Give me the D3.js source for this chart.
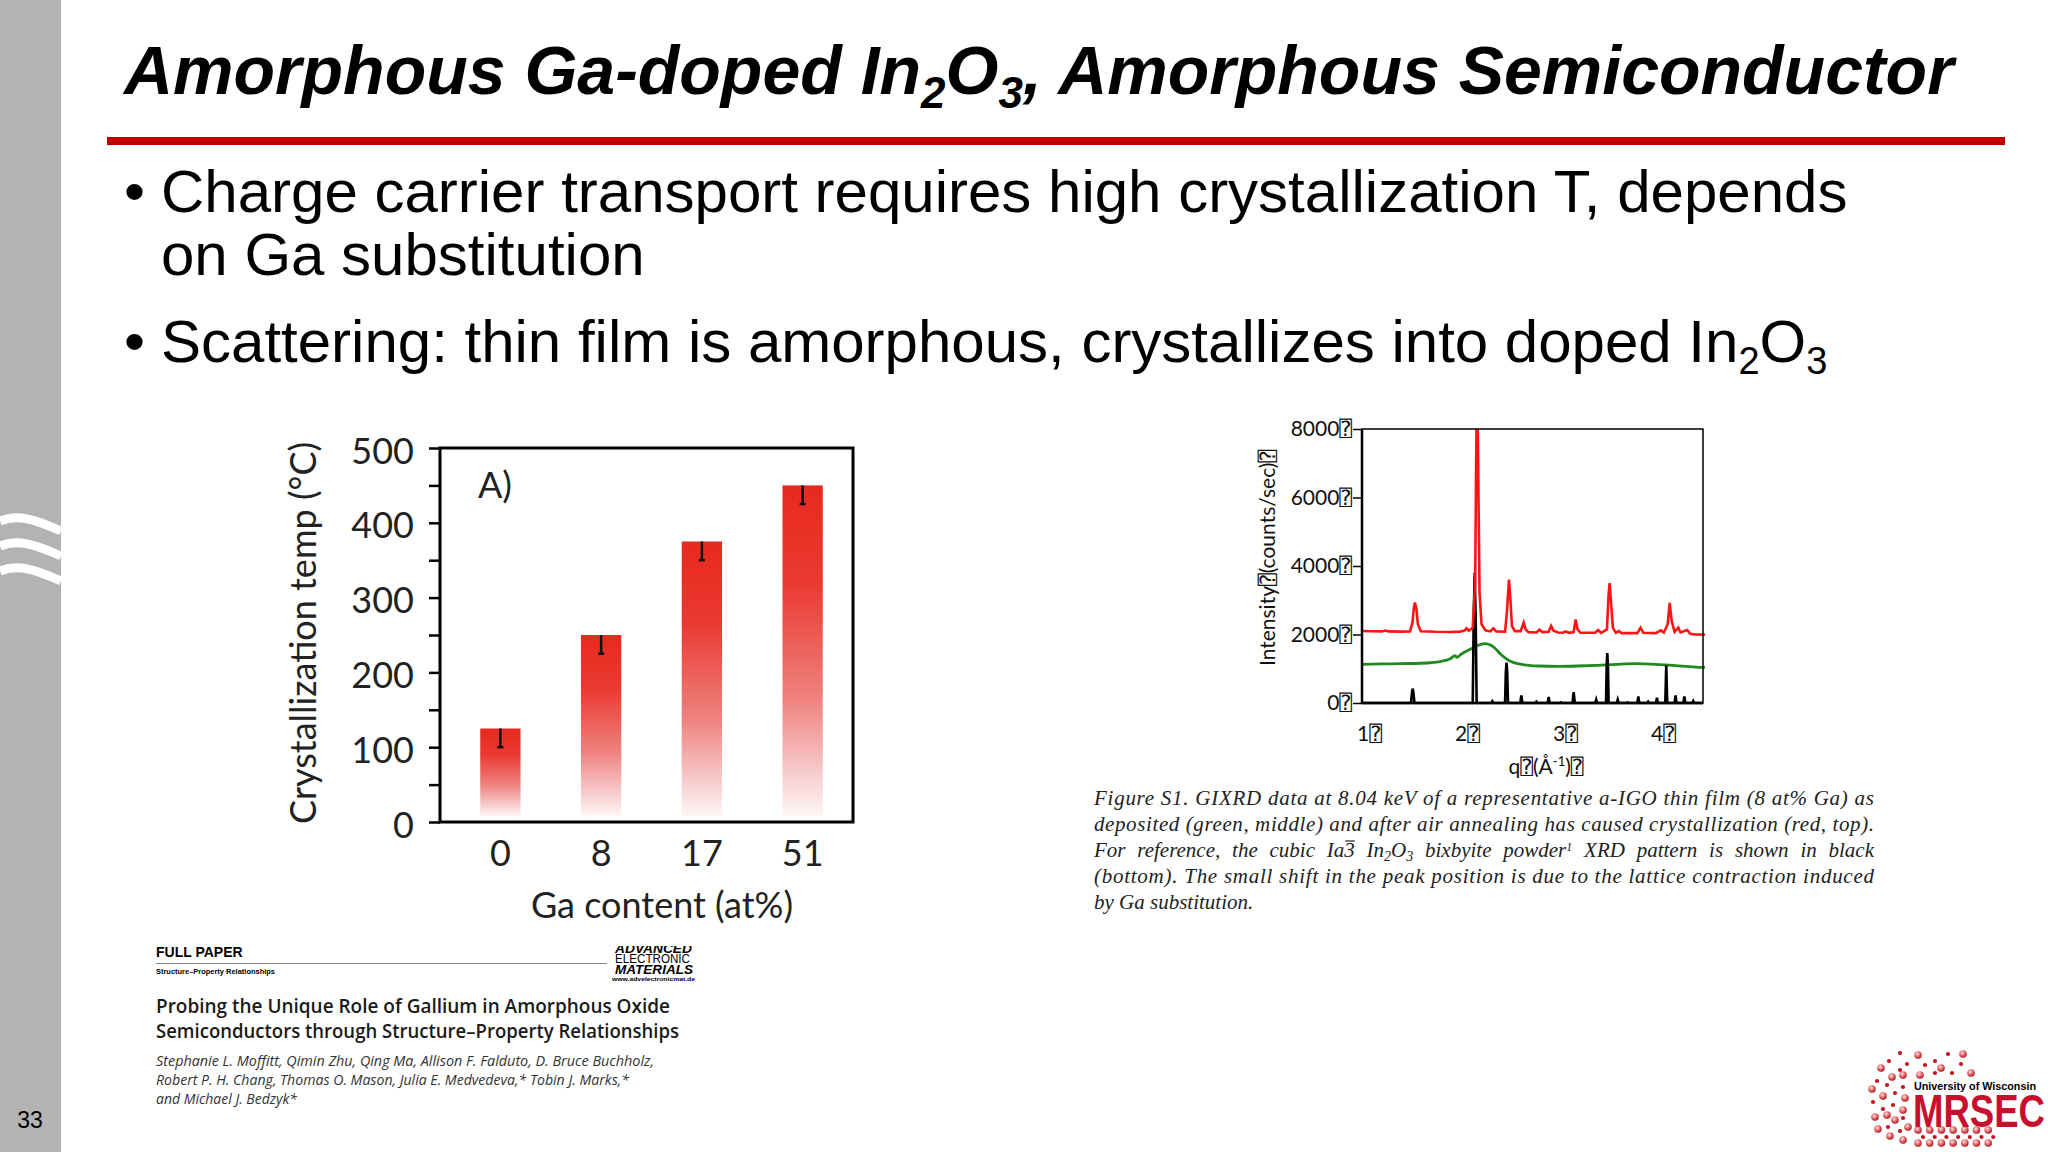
<!DOCTYPE html>
<html>
<head>
<meta charset="utf-8">
<script src="https://cdn.jsdelivr.net/npm/d3@7"></script>
<style>
  body { margin: 0; background: #fff; }
  svg { display: block; }
</style>
</head>
<body>
<script>
const width = 2048,
  height = 1152;

// Panel A: crystallization temperature vs Ga content
const gaContent = ["0", "8", "17", "51"];
const crystTemp = [125, 250, 375, 450];
const tempErr = [25, 25, 25, 25];
const tempTicks = [0, 100, 200, 300, 400, 500];
const tempMinorTicks = [50, 150, 250, 350, 450];

// GIXRD patterns: [q (1/Å), intensity (counts/sec)]
const qTicks = [1, 2, 3, 4];
const intensityTicks = [0, 2000, 4000, 6000, 8000];
const redAnnealed = [
  [1.0, 2100], [1.1, 2095], [1.2, 2090], [1.24, 2115], [1.27, 2090], [1.4, 2085],
  [1.49, 2090], [1.515, 2350], [1.53, 2800], [1.54, 2930], [1.555, 2750], [1.57, 2300],
  [1.6, 2095], [1.75, 2080], [1.9, 2075], [2.0, 2085], [2.05, 2120], [2.065, 2180],
  [2.09, 2110], [2.13, 2200], [2.155, 3500], [2.165, 7000], [2.175, 9800], [2.185, 7000],
  [2.2, 3200], [2.22, 2300], [2.26, 2120], [2.31, 2090], [2.34, 2180], [2.37, 2090],
  [2.46, 2080], [2.48, 2700], [2.5, 3600], [2.515, 3000], [2.53, 2250], [2.56, 2100],
  [2.62, 2100], [2.65, 2350], [2.67, 2150], [2.7, 2070], [2.78, 2060], [2.81, 2140],
  [2.84, 2070], [2.905, 2080], [2.93, 2250], [2.955, 2110], [3.0, 2060], [3.05, 2050],
  [3.08, 2090], [3.11, 2050], [3.16, 2070], [3.18, 2440], [3.2, 2150], [3.23, 2050],
  [3.38, 2050], [3.41, 2130], [3.44, 2050], [3.5, 2150], [3.515, 3100], [3.527, 3500],
  [3.54, 3000], [3.56, 2200], [3.59, 2050], [3.62, 2100], [3.65, 2040], [3.81, 2040],
  [3.843, 2200], [3.87, 2050], [4.0, 2040], [4.05, 2120], [4.08, 2060], [4.12, 2300],
  [4.14, 2920], [4.16, 2400], [4.19, 2080], [4.228, 2200], [4.25, 2060], [4.32, 2130],
  [4.35, 2020], [4.4, 2000], [4.5, 1995]
];
const greenDeposited = [
  [1.0, 1130], [1.2, 1140], [1.4, 1150], [1.6, 1160], [1.7, 1175], [1.8, 1210],
  [1.9, 1290], [1.95, 1380], [1.97, 1330], [2.0, 1400], [2.1, 1560], [2.2, 1700],
  [2.26, 1735], [2.31, 1690], [2.36, 1590], [2.41, 1440], [2.46, 1320], [2.52, 1210],
  [2.6, 1140], [2.7, 1100], [2.8, 1080], [3.0, 1070], [3.2, 1080], [3.4, 1100],
  [3.6, 1130], [3.8, 1150], [4.0, 1130], [4.2, 1090], [4.4, 1050], [4.5, 1040]
];
const blackPowder = [
  [1.0, 0], [1.5, 0], [1.51, 300], [1.517, 420], [1.525, 300], [1.535, 0],
  [2.13, 0], [2.14, 2500], [2.15, 3800], [2.16, 2500], [2.17, 0], [2.32, 0],
  [2.33, 50], [2.34, 0], [2.46, 0], [2.468, 900], [2.475, 1180], [2.482, 900],
  [2.49, 0], [2.615, 0], [2.626, 224], [2.637, 0], [2.77, 0], [2.78, 40],
  [2.79, 0], [2.895, 0], [2.905, 175], [2.915, 0], [3.02, 0], [3.03, 20],
  [3.04, 0], [3.148, 0], [3.16, 320], [3.172, 0], [3.38, 0], [3.39, 100],
  [3.4, 0], [3.49, 0], [3.497, 1100], [3.503, 1460], [3.51, 1100], [3.517, 0],
  [3.6, 0], [3.61, 100], [3.62, 0], [3.7, 0], [3.71, 20], [3.72, 0],
  [3.81, 0], [3.82, 195], [3.83, 0], [3.91, 0], [3.92, 40], [3.93, 0],
  [4.0, 0], [4.01, 155], [4.02, 0], [4.095, 0], [4.105, 1100], [4.115, 0],
  [4.19, 0], [4.2, 224], [4.21, 0], [4.28, 0], [4.29, 195], [4.3, 0],
  [4.37, 0], [4.38, 60], [4.39, 0], [4.48, 0]
];

const captionLines = [
  "Figure S1. GIXRD data at 8.04 keV of a representative a-IGO thin film (8 at% Ga) as",
  "deposited (green, middle) and after air annealing has caused crystallization (red, top).",
  null, // pieces below (sub/superscripts)
  "(bottom). The small shift in the peak position is due to the lattice contraction induced",
  "by Ga substitution."
];
// [text, kind, space before]: n = normal, o = overlined, b = subscript, p = superscript
const captionLine3 = [
  ["For reference, the cubic Ia", "n", 0], ["3", "o", 0], ["In", "n", 1], ["2", "b", 0],
  ["O", "n", 0], ["3", "b", 0], ["bixbyite powder", "n", 1], ["1", "p", 0],
  ["XRD pattern is shown in black", "n", 1]
];
const authorLines = [
  "Stephanie L. Moffitt, Qimin Zhu, Qing Ma, Allison F. Falduto, D. Bruce Buchholz,",
  "Robert P. H. Chang, Thomas O. Mason, Julia E. Medvedeva,* Tobin J. Marks,*",
  "and Michael J. Bedzyk*"
];

const sans = "'Liberation Sans', Arial, sans-serif";
const calib = "Lato, 'Open Sans', sans-serif";
const tofu = "\u2370";

const svg = d3
  .select("body")
  .append("svg")
  .attr("width", width)
  .attr("height", height);

const defs = svg.append("defs");

// ---------- slide frame ----------
svg.append("rect").attr("width", width).attr("height", height).attr("fill", "#fff");
svg.append("rect").attr("x", 0).attr("y", 0).attr("width", 61).attr("height", height).attr("fill", "#b3b3b3");
[521, 546, 571].forEach(y => {
  svg.append("path")
    .attr("d", `M0,${y} C18,${y - 7} 34,${y - 2} 61,${y + 10}`)
    .attr("fill", "none")
    .attr("stroke", "#fff")
    .attr("stroke-width", 9);
});
svg.append("text")
  .attr("x", 30).attr("y", 1128)
  .attr("text-anchor", "middle")
  .attr("font-family", sans).attr("font-size", 23)
  .text("33");

// title
const title = svg.append("text")
  .attr("x", 124).attr("y", 94)
  .attr("font-family", sans).attr("font-size", 68)
  .attr("font-weight", "bold").attr("font-style", "italic");
title.append("tspan").text("Amorphous Ga-doped In");
title.append("tspan").attr("font-size", 44).attr("dy", 14).text("2");
title.append("tspan").attr("dy", -14).text("O");
title.append("tspan").attr("font-size", 44).attr("dy", 14).text("3");
title.append("tspan").attr("dy", -14).text(", Amorphous Semiconductor");

svg.append("rect").attr("x", 107).attr("y", 137).attr("width", 1898).attr("height", 8).attr("fill", "#c00000");

// bullets
const bullets = svg.append("g").attr("font-family", sans).attr("font-size", 60).attr("fill", "#000");
[212, 362].forEach(y => bullets.append("text").attr("x", 124).attr("y", y).text("\u2022"));
bullets.append("text").attr("x", 161).attr("y", 212).text("Charge carrier transport requires high crystallization T, depends");
bullets.append("text").attr("x", 161).attr("y", 275).text("on Ga substitution");
const b3 = bullets.append("text").attr("x", 161).attr("y", 362);
b3.append("tspan").text("Scattering: thin film is amorphous, crystallizes into doped In");
b3.append("tspan").attr("font-size", 38).attr("dy", 12).text("2");
b3.append("tspan").attr("dy", -12).text("O");
b3.append("tspan").attr("font-size", 38).attr("dy", 12).text("3");

// ---------- Panel A: bar chart ----------
const bx0 = 440, bx1 = 853, by0 = 822, by1 = 448;
const yScale = d3.scaleLinear().domain([0, 500]).range([by0, by1]);
const xScale = d3.scaleBand().domain(gaContent).range([450, 853]).paddingInner(0.6).paddingOuter(0.3);

const grad = defs.append("linearGradient").attr("id", "barGrad")
  .attr("x1", 0).attr("y1", 0).attr("x2", 0).attr("y2", 1);
[[0, "#e8291f"], [0.3, "#ea3a31"], [0.65, "#ef8380"], [0.88, "#f7cfcf"], [1, "#fff6f6"]]
  .forEach(([o, c]) => grad.append("stop").attr("offset", o).attr("stop-color", c));

const barG = svg.append("g");
barG.selectAll("rect.bar")
  .data(gaContent)
  .enter()
  .append("rect")
  .attr("class", "bar")
  .attr("x", d => xScale(d))
  .attr("width", xScale.bandwidth())
  .attr("y", (d, i) => yScale(crystTemp[i]))
  .attr("height", (d, i) => yScale(0) - yScale(crystTemp[i]) - 6)
  .attr("fill", "url(#barGrad)");

// error bars (lower half shown)
const errG = barG.selectAll("g.err")
  .data(gaContent)
  .enter()
  .append("g")
  .attr("class", "err")
  .attr("stroke", "#111")
  .attr("stroke-width", 2.5);
errG.append("line")
  .attr("x1", d => xScale(d) + xScale.bandwidth() / 2)
  .attr("x2", d => xScale(d) + xScale.bandwidth() / 2)
  .attr("y1", (d, i) => yScale(crystTemp[i]))
  .attr("y2", (d, i) => yScale(crystTemp[i] - tempErr[i]));
errG.append("line")
  .attr("x1", d => xScale(d) + xScale.bandwidth() / 2 - 3)
  .attr("x2", d => xScale(d) + xScale.bandwidth() / 2 + 3)
  .attr("y1", (d, i) => yScale(crystTemp[i] - tempErr[i]))
  .attr("y2", (d, i) => yScale(crystTemp[i] - tempErr[i]));

// frame
barG.append("rect")
  .attr("x", bx0).attr("y", by1)
  .attr("width", bx1 - bx0).attr("height", by0 - by1)
  .attr("fill", "none").attr("stroke", "#000").attr("stroke-width", 3);

const yAxis = d3.axisLeft(yScale).tickValues(tempTicks).tickSize(11).tickPadding(15);
const yAxisG = barG.append("g").attr("transform", `translate(${bx0},0)`).call(yAxis);
const yMinorG = barG.append("g").attr("transform", `translate(${bx0},0)`)
  .call(d3.axisLeft(yScale).tickValues(tempMinorTicks).tickSize(11).tickFormat(""));
[yAxisG, yMinorG].forEach(g => {
  g.select(".domain").remove();
  g.selectAll("line").attr("stroke", "#000").attr("stroke-width", 2.5);
});
yAxisG.selectAll("text").attr("font-family", calib).attr("font-size", 36).attr("fill", "#222").attr("dy", "0.42em");

const xAxis = d3.axisBottom(xScale).tickSize(0).tickPadding(18);
const xAxisG = barG.append("g").attr("transform", `translate(0,${by0})`).call(xAxis);
xAxisG.select(".domain").remove();
xAxisG.selectAll("text").attr("font-family", calib).attr("font-size", 36).attr("fill", "#222");

barG.append("text")
  .attr("x", 478).attr("y", 498)
  .attr("font-family", calib).attr("font-size", 36).attr("fill", "#222")
  .text("A)");
barG.append("text")
  .attr("x", 662).attr("y", 918)
  .attr("text-anchor", "middle")
  .attr("font-family", calib).attr("font-size", 36).attr("fill", "#222")
  .text("Ga content (at%)");
barG.append("text")
  .attr("transform", "translate(316,633) rotate(-90)")
  .attr("text-anchor", "middle")
  .attr("font-family", calib).attr("font-size", 36).attr("fill", "#222")
  .text("Crystallization temp (\u00b0C)");

// ---------- GIXRD plot ----------
const px0 = 1362, px1 = 1703, py0 = 703, py1 = 429;
const qScale = d3.scaleLinear().domain([1, 4.48]).range([px0, px1]);
const iScale = d3.scaleLinear().domain([0, 8000]).range([py0, py1]);
const xrdFont = "Lato, 'DejaVu Sans Mono', 'DejaVu Sans', sans-serif";

defs.append("clipPath").attr("id", "xrdClip")
  .append("rect").attr("x", px0 - 2).attr("y", py1).attr("width", px1 - px0 + 6).attr("height", py0 - py1 + 3);

const xrd = svg.append("g");
const line = d3.line().x(d => qScale(d[0])).y(d => iScale(d[1]));
const plotG = xrd.append("g").attr("clip-path", "url(#xrdClip)");
plotG.append("path").datum(greenDeposited)
  .attr("d", line.curve(d3.curveMonotoneX))
  .attr("fill", "none").attr("stroke", "#1f8a1f").attr("stroke-width", 2.8);
line.curve(d3.curveLinear);
plotG.append("path").datum(blackPowder)
  .attr("d", line)
  .attr("fill", "none").attr("stroke", "#000").attr("stroke-width", 2.6);
plotG.append("path").datum(redAnnealed)
  .attr("d", line)
  .attr("fill", "none").attr("stroke", "#ff1414").attr("stroke-width", 2.6);

xrd.append("rect")
  .attr("x", px0).attr("y", py1)
  .attr("width", px1 - px0).attr("height", py0 - py1)
  .attr("fill", "none").attr("stroke", "#000").attr("stroke-width", 1.5);
xrd.append("line")
  .attr("x1", px0).attr("x2", px1).attr("y1", py0).attr("y2", py0)
  .attr("stroke", "#000").attr("stroke-width", 2.5);
xrd.append("line")
  .attr("x1", px0).attr("x2", px0).attr("y1", py0).attr("y2", py1)
  .attr("stroke", "#000").attr("stroke-width", 2.5);

const iAxisG = xrd.append("g").attr("transform", `translate(${px0},0)`)
  .call(d3.axisLeft(iScale).tickValues(intensityTicks).tickSize(9).tickPadding(1).tickFormat(d => d + tofu));
iAxisG.select(".domain").remove();
iAxisG.selectAll("line").attr("stroke", "#000").attr("stroke-width", 1.5);
iAxisG.selectAll("text").attr("font-family", xrdFont).attr("font-size", 21).attr("fill", "#111");

const qAxisG = xrd.append("g").attr("transform", `translate(0,${py0})`)
  .call(d3.axisBottom(qScale).tickValues(qTicks).tickSize(0).tickPadding(23).tickFormat(d => d + tofu));
qAxisG.select(".domain").remove();
qAxisG.selectAll("text").attr("font-family", xrdFont).attr("font-size", 21).attr("fill", "#111").attr("dx", 7);

xrd.append("text")
  .attr("transform", "translate(1275,558) rotate(-90)")
  .attr("text-anchor", "middle")
  .attr("font-family", xrdFont).attr("font-size", 21).attr("fill", "#111")
  .text("Intensity" + tofu + "(counts/sec)" + tofu);
const qt = xrd.append("text")
  .attr("x", 1546).attr("y", 774)
  .attr("text-anchor", "middle")
  .attr("font-family", xrdFont).attr("font-size", 21).attr("fill", "#111");
qt.append("tspan").text("q" + tofu + "(\u00c5");
qt.append("tspan").attr("font-size", 13).attr("dy", -8).text("-1");
qt.append("tspan").attr("dy", 8).text(")" + tofu);

// caption
const serif = "'Liberation Serif', 'Times New Roman', serif";
const capW = 780, capX = 1094;
const cap = svg.append("g")
  .attr("font-family", serif).attr("font-size", 21)
  .attr("font-style", "italic").attr("fill", "#222");
const capY = [805, 831, 857, 883, 909];
captionLines.forEach((t, i) => {
  if (t === null) return;
  const tx = cap.append("text").attr("x", capX).attr("y", capY[i]).text(t);
  if (i < 4) tx.attr("textLength", capW).attr("lengthAdjust", "spacing");
});

// line 3: separate pieces, justified by widening the word gaps
const probe = cap.append("text").text("a a");
const probe2 = cap.append("text").text("aa");
const spaceW = probe.node().getComputedTextLength() - probe2.node().getComputedTextLength();
probe.remove();
probe2.remove();
const pieces = captionLine3.map(([t, kind, lead]) => {
  const el = cap.append("text").attr("y", capY[2]).text(t);
  if (kind === "b") el.attr("font-size", 14).attr("y", capY[2] + 4);
  if (kind === "p") el.attr("font-size", 12).attr("y", capY[2] - 6);
  return { el, kind, lead, w: el.node().getComputedTextLength(), inner: (t.match(/ /g) || []).length };
});
const natural = d3.sum(pieces, p => p.w + p.lead * spaceW);
const nGaps = d3.sum(pieces, p => p.inner + p.lead);
const ws = Math.max(0, (capW - natural) / nGaps);
let cx = capX;
pieces.forEach(p => {
  cx += p.lead * (spaceW + ws);
  p.el.attr("x", cx).attr("word-spacing", ws);
  if (p.kind === "o") {
    cap.append("line")
      .attr("x1", cx + 1).attr("x2", cx + p.w)
      .attr("y1", capY[2] - 16).attr("y2", capY[2] - 16)
      .attr("stroke", "#222").attr("stroke-width", 1.2);
  }
  cx += p.w + p.inner * ws;
});

// ---------- paper header snippet ----------
const paper = svg.append("g");
paper.append("text").attr("x", 156).attr("y", 957)
  .attr("font-family", sans).attr("font-size", 14).attr("font-weight", "bold")
  .text("FULL PAPER");
paper.append("line").attr("x1", 156).attr("x2", 607).attr("y1", 963.5).attr("y2", 963.5)
  .attr("stroke", "#888").attr("stroke-width", 1);
paper.append("text").attr("x", 156).attr("y", 974)
  .attr("font-family", sans).attr("font-size", 8).attr("font-weight", "bold")
  .attr("textLength", 119).attr("lengthAdjust", "spacingAndGlyphs")
  .text("Structure\u2013Property Relationships");

defs.append("clipPath").attr("id", "advClip")
  .append("rect").attr("x", 600).attr("y", 946).attr("width", 110).attr("height", 20);
paper.append("text").attr("x", 615).attr("y", 953).attr("clip-path", "url(#advClip)")
  .attr("font-family", sans).attr("font-size", 12).attr("font-weight", "bold").attr("font-style", "italic")
  .attr("textLength", 77).attr("lengthAdjust", "spacingAndGlyphs")
  .text("ADVANCED");
paper.append("text").attr("x", 615).attr("y", 963)
  .attr("font-family", sans).attr("font-size", 12)
  .attr("textLength", 75).attr("lengthAdjust", "spacingAndGlyphs")
  .text("ELECTRONIC");
paper.append("text").attr("x", 615).attr("y", 974)
  .attr("font-family", sans).attr("font-size", 12.5).attr("font-weight", "bold").attr("font-style", "italic")
  .attr("textLength", 78).attr("lengthAdjust", "spacingAndGlyphs")
  .text("MATERIALS");
paper.append("text").attr("x", 612).attr("y", 981)
  .attr("font-family", sans).attr("font-size", 6).attr("font-weight", "bold")
  .attr("textLength", 83).attr("lengthAdjust", "spacingAndGlyphs")
  .text("www.advelectronicmat.de");

const ptitle = paper.append("g")
  .attr("font-family", "'Open Sans', sans-serif").attr("font-weight", 600)
  .attr("font-size", 19).attr("fill", "#1a1a1a");
ptitle.append("text").attr("x", 156).attr("y", 1013)
  .attr("textLength", 514).attr("lengthAdjust", "spacingAndGlyphs")
  .text("Probing the Unique Role of Gallium in Amorphous Oxide");
ptitle.append("text").attr("x", 156).attr("y", 1038)
  .attr("textLength", 523).attr("lengthAdjust", "spacingAndGlyphs")
  .text("Semiconductors through Structure\u2013Property Relationships");

const authG = paper.append("g")
  .attr("font-family", "'Open Sans', sans-serif").attr("font-style", "italic")
  .attr("font-size", 14).attr("fill", "#333");
const authY = [1066, 1085, 1104];
const authW = [498, 473, null];
authorLines.forEach((t, i) => {
  const tx = authG.append("text").attr("x", 156).attr("y", authY[i]).text(t);
  if (authW[i]) tx.attr("textLength", authW[i]).attr("lengthAdjust", "spacingAndGlyphs");
});

// ---------- MRSEC logo ----------
const sph = defs.append("radialGradient").attr("id", "sphere")
  .attr("cx", 0.4).attr("cy", 0.35).attr("r", 0.65);
sph.append("stop").attr("offset", 0).attr("stop-color", "#fbe3e3");
sph.append("stop").attr("offset", 0.45).attr("stop-color", "#e77b7b");
sph.append("stop").attr("offset", 1).attr("stop-color", "#b3121c");

const logo = svg.append("g").attr("transform", "translate(1850,1030)");
// decorative dot cloud: [x, y, big?]
const logoDots = [
  [50, 23, 0], [68, 25, 1], [98, 24, 0], [113, 24, 1],
  [39, 31, 0], [57, 34, 0], [75, 35, 0], [85, 31, 0], [91, 38, 1], [111, 34, 0],
  [31, 38, 1], [50, 40, 0], [42, 47, 1], [53, 45, 1], [70, 45, 1], [85, 43, 0], [102, 43, 0], [121, 43, 1],
  [27, 51, 0], [37, 55, 0], [53, 57, 0], [22, 59, 1], [33, 66, 1], [45, 63, 0], [55, 68, 1],
  [23, 72, 0], [43, 75, 0], [33, 79, 0], [53, 80, 1], [25, 87, 1], [37, 85, 1], [45, 90, 1], [53, 88, 0],
  [28, 99, 1], [38, 97, 0], [50, 101, 0], [58, 97, 1], [40, 106, 1], [53, 110, 1]
];
for (let k = 0; k < 7; k++) {
  logoDots.push([68 + k * 11.7, 100, 1]);
  logoDots.push([73 + k * 11.7, 107, 0]);
  logoDots.push([68 + k * 11.7, 113, 1]);
}
logo.selectAll("circle")
  .data(logoDots)
  .enter()
  .append("circle")
  .attr("cx", d => d[0]).attr("cy", d => d[1])
  .attr("r", d => (d[2] ? 3.8 : 2.1))
  .attr("fill", d => (d[2] ? "url(#sphere)" : "#c0141e"));
logo.append("text").attr("x", 64).attr("y", 60)
  .attr("font-family", sans).attr("font-size", 11).attr("font-weight", "bold")
  .attr("textLength", 122).attr("lengthAdjust", "spacingAndGlyphs")
  .text("University of Wisconsin");
logo.append("text").attr("x", 63).attr("y", 97)
  .attr("font-family", sans).attr("font-size", 46).attr("font-weight", "bold").attr("fill", "#c8102e")
  .attr("textLength", 132).attr("lengthAdjust", "spacingAndGlyphs")
  .text("MRSEC");
</script>
</body>
</html>
